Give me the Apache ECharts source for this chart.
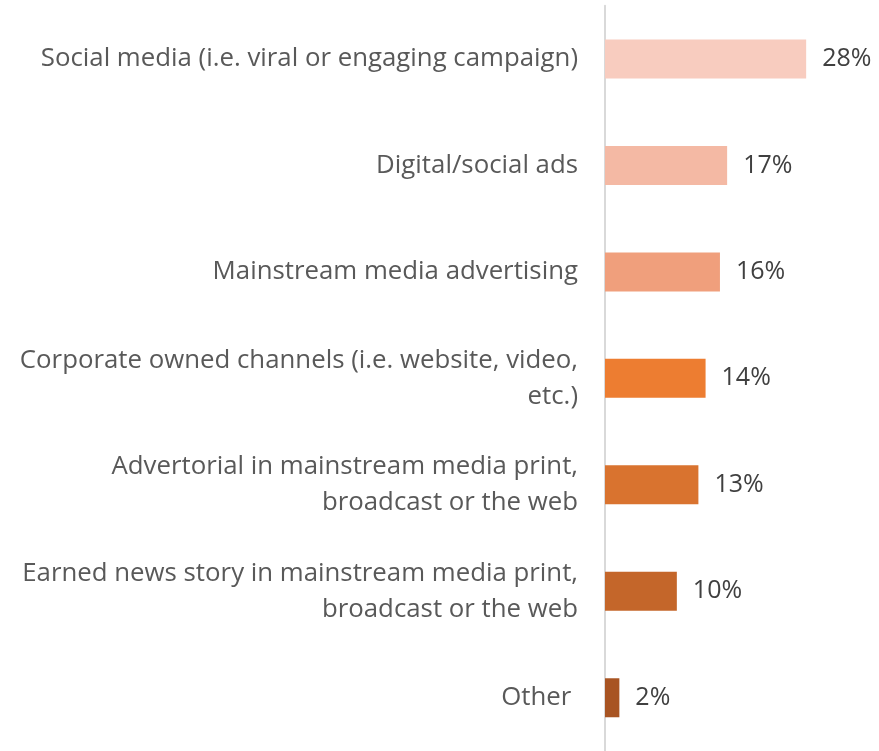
<!DOCTYPE html>
<html>
<head>
<meta charset="utf-8">
<style>
  html, body { margin: 0; padding: 0; background: #fff; }
  #chart { width: 879px; height: 751px; }
</style>
<script src="https://cdn.jsdelivr.net/npm/echarts@6/dist/echarts.min.js"></script>
</head>
<body>
<div id="chart"></div>
<script>
// Channel categories, top to bottom
const categories = [
  'Social media (i.e. viral or engaging campaign)',
  'Digital/social ads',
  'Mainstream media advertising',
  'Corporate owned channels (i.e. website, video,\netc.)',
  'Advertorial in mainstream media print,\nbroadcast or the web',
  'Earned news story in mainstream media print,\nbroadcast or the web',
  'Other '
];
// Share of respondents, percent
const values = [28, 17, 16, 14, 13, 10, 2];
// Bar fill per category, light to dark orange
const barColors = ['#F8CCBF', '#F4B9A4', '#F09F7C', '#ED7D31', '#D9732F', '#C4662A', '#A85422'];

const FONT = '"Open Sans", sans-serif';

const chart = echarts.init(document.getElementById('chart'));
chart.setOption({
  animation: false,
  backgroundColor: '#ffffff',
  grid: { left: 605, top: 5.7, bottom: -5.7, width: 273, containLabel: false },
  xAxis: {
    type: 'value', min: 0, max: 38,
    show: false
  },
  yAxis: {
    type: 'category',
    data: categories,
    inverse: true,
    axisLine: { show: true, lineStyle: { color: '#D9D9D9', width: 2 } },
    axisTick: { show: false },
    axisLabel: {
      margin: 27,
      color: '#595959',
      fontFamily: FONT,
      fontSize: 25.8,
      lineHeight: 36,
      align: 'right'
    }
  },
  series: [{
    type: 'bar',
    barWidth: 39,
    data: values.map((v, i) => ({ value: v, itemStyle: { color: barColors[i] } })),
    label: {
      show: true,
      position: 'right',
      distance: 16,
      color: '#404040',
      fontFamily: FONT,
      fontSize: 25,
      formatter: p => p.value + '%'
    }
  }]
});
</script>
</body>
</html>
